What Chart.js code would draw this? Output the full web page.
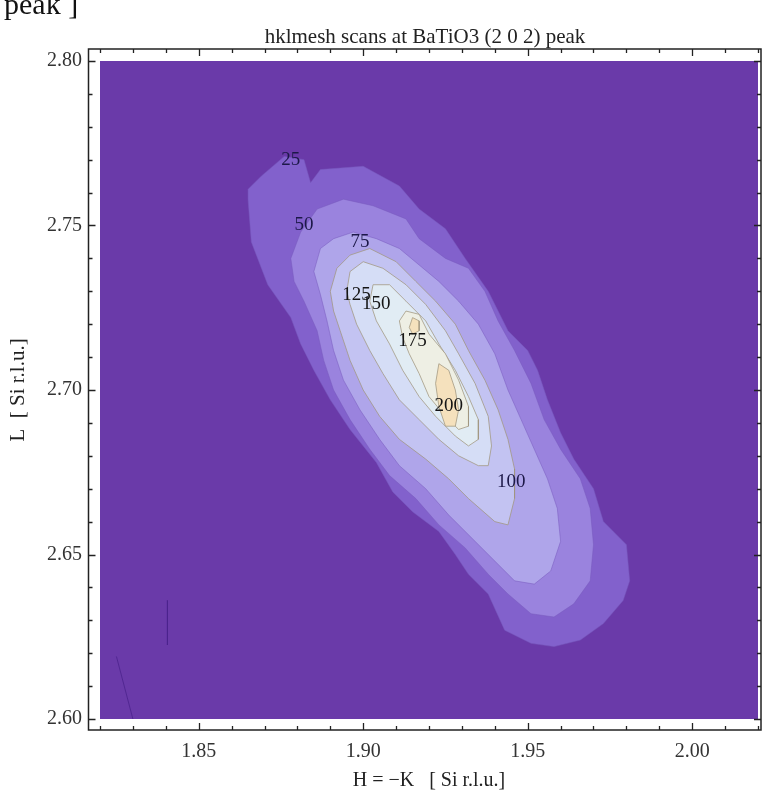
<!DOCTYPE html>
<html>
<head>
<meta charset="utf-8">
<script src="https://cdn.jsdelivr.net/npm/chart.js@4.4.1/dist/chart.umd.min.js"></script>
<style>
  html, body { margin: 0; padding: 0; background: #fff; }
</style>
</head>
<body>
<canvas id="meshChart" width="765" height="798"></canvas>
<script>
// axis ticks (H = -K on x, L on y)
const xTicks = [1.85, 1.90, 1.95, 2.00];
const yTicks = [2.60, 2.65, 2.70, 2.75, 2.80];
const xMinorTicks = [1.82, 1.83, 1.84, 1.85, 1.86, 1.87, 1.88, 1.89, 1.90, 1.91, 1.92,
  1.93, 1.94, 1.95, 1.96, 1.97, 1.98, 1.99, 2.00, 2.01, 2.02];
const yMinorTicks = [2.60, 2.61, 2.62, 2.63, 2.64, 2.65, 2.66, 2.67, 2.68, 2.69, 2.70,
  2.71, 2.72, 2.73, 2.74, 2.75, 2.76, 2.77, 2.78, 2.79, 2.80];

// contour outlines, [H, L]
const contour25 = [[1.865,2.761],[1.869,2.765],[1.876,2.771],[1.882,2.770],[1.884,2.763],[1.887,2.767],
  [1.900,2.768],[1.911,2.762],[1.917,2.755],[1.925,2.749],[1.931,2.740],[1.938,2.730],[1.944,2.718],
  [1.950,2.712],[1.953,2.706],[1.956,2.697],[1.960,2.687],[1.964,2.679],[1.970,2.670],[1.973,2.660],
  [1.980,2.653],[1.981,2.642],[1.979,2.636],[1.973,2.629],[1.966,2.624],[1.958,2.622],[1.951,2.623],
  [1.943,2.627],[1.938,2.638],[1.932,2.644],[1.928,2.650],[1.923,2.657],[1.915,2.663],[1.909,2.669],
  [1.904,2.678],[1.896,2.688],[1.890,2.697],[1.885,2.706],[1.881,2.714],[1.878,2.722],[1.871,2.732],
  [1.866,2.745],[1.865,2.758]];
const contour50 = [[1.878,2.740],[1.881,2.748],[1.886,2.755],[1.894,2.758],[1.903,2.756],[1.913,2.752],
  [1.917,2.746],[1.925,2.740],[1.932,2.737],[1.937,2.730],[1.941,2.721],[1.946,2.712],[1.951,2.702],
  [1.955,2.691],[1.960,2.682],[1.966,2.673],[1.969,2.664],[1.970,2.653],[1.969,2.642],[1.964,2.635],
  [1.958,2.631],[1.951,2.632],[1.944,2.638],[1.938,2.644],[1.931,2.652],[1.923,2.659],[1.916,2.667],
  [1.908,2.674],[1.902,2.682],[1.896,2.691],[1.891,2.700],[1.888,2.709],[1.886,2.718],[1.882,2.727],
  [1.879,2.733]];
const contour75 = [[1.885,2.736],[1.887,2.743],[1.891,2.746],[1.897,2.748],[1.904,2.746],[1.911,2.743],
  [1.917,2.738],[1.923,2.733],[1.929,2.727],[1.935,2.720],[1.940,2.711],[1.944,2.700],[1.948,2.691],
  [1.952,2.682],[1.956,2.673],[1.959,2.664],[1.960,2.654],[1.957,2.645],[1.952,2.641],[1.946,2.642],
  [1.940,2.648],[1.934,2.654],[1.926,2.662],[1.919,2.670],[1.911,2.677],[1.905,2.685],[1.899,2.694],
  [1.894,2.703],[1.891,2.712],[1.889,2.721],[1.887,2.729]];
const contour100 = [[1.890,2.730],[1.892,2.737],[1.896,2.741],[1.902,2.743],[1.910,2.739],[1.916,2.733],
  [1.922,2.727],[1.928,2.720],[1.932,2.712],[1.937,2.703],[1.941,2.694],[1.944,2.685],[1.946,2.676],
  [1.946,2.667],[1.944,2.659],[1.940,2.660],[1.932,2.667],[1.926,2.673],[1.919,2.679],[1.911,2.685],
  [1.905,2.692],[1.900,2.700],[1.896,2.709],[1.893,2.718],[1.891,2.724]];
const contour125 = [[1.895,2.730],[1.896,2.736],[1.900,2.739],[1.906,2.737],[1.913,2.732],[1.919,2.726],
  [1.925,2.718],[1.929,2.711],[1.934,2.702],[1.938,2.692],[1.939,2.683],[1.938,2.677],[1.935,2.677],
  [1.929,2.680],[1.923,2.685],[1.917,2.691],[1.911,2.697],[1.906,2.705],[1.902,2.712],[1.898,2.720],
  [1.896,2.726]];
const contour150 = [[1.902,2.727],[1.903,2.732],[1.908,2.732],[1.913,2.727],[1.919,2.721],[1.923,2.714],
  [1.928,2.706],[1.932,2.698],[1.935,2.691],[1.935,2.685],[1.932,2.683],[1.928,2.686],[1.922,2.692],
  [1.917,2.698],[1.912,2.706],[1.908,2.714],[1.904,2.721]];
const contour175 = [[1.911,2.721],[1.913,2.724],[1.917,2.723],[1.920,2.717],[1.925,2.711],[1.929,2.703],
  [1.932,2.695],[1.932,2.689],[1.929,2.688],[1.925,2.692],[1.920,2.698],[1.917,2.705],[1.914,2.711],
  [1.912,2.716]];
const contour200 = [[1.923,2.708],[1.926,2.706],[1.928,2.700],[1.929,2.694],[1.928,2.689],[1.925,2.689],
  [1.923,2.695],[1.922,2.702]];
const contour200b = [[1.915,2.722],[1.917,2.721],[1.917,2.718],[1.915,2.717],[1.914,2.719]];

// stray low-level contour pieces in the lower left
const strayLineA = [[1.825,2.619],[1.830,2.600]];
const strayLineB = [[1.8405,2.636],[1.8405,2.6225]];

// contour labels: level, H, L
const labelLevels = [25, 50, 75, 125, 150, 175, 200, 100];
const labelH = [1.878, 1.882, 1.899, 1.898, 1.904, 1.915, 1.926, 1.945];
const labelL = [2.770, 2.750, 2.745, 2.729, 2.726, 2.715, 2.695, 2.672];

const bgPurple = '#6a3aa9';
const bandColors = {
  25: '#8261cc', 50: '#9a83de', 75: '#afa5ea', 100: '#c3c3f2',
  125: '#d5ddf6', 150: '#e1ecf4', 175: '#eeefe4', 200: '#f5e1bd'
};

// highest level first -> drawn last (on top)
const contours = [
  { level: 200, pts: contour200 }, { level: 200, pts: contour200b },
  { level: 175, pts: contour175 }, { level: 150, pts: contour150 },
  { level: 125, pts: contour125 }, { level: 100, pts: contour100 },
  { level: 75, pts: contour75 }, { level: 50, pts: contour50 },
  { level: 25, pts: contour25 }
];

const serif = '"Liberation Serif", "Times New Roman", serif';

const datasets = [];
[strayLineA, strayLineB].forEach(pts => {
  datasets.push({
    data: pts.map(p => ({ x: p[0], y: p[1] })),
    borderColor: 'rgba(75,35,140,0.8)',
    borderWidth: 1,
    pointRadius: 0,
    fill: false
  });
});
contours.forEach(c => {
  const pts = c.pts.concat([c.pts[0]]);
  datasets.push({
    data: pts.map(p => ({ x: p[0], y: p[1] })),
    backgroundColor: bandColors[c.level],
    borderColor: c.level >= 100 ? 'rgba(160,150,125,0.75)' : 'rgba(120,90,190,0.5)',
    borderWidth: 1,
    pointRadius: 0,
    tension: 0,
    fill: 'shape'
  });
});

const plotBackground = {
  id: 'plotBackground',
  beforeDatasetsDraw(chart) {
    const { ctx, chartArea: a } = chart;
    ctx.save();
    ctx.fillStyle = bgPurple;
    ctx.fillRect(a.left, a.top, a.right - a.left, a.bottom - a.top);
    ctx.restore();
  }
};

const frameAndLabels = {
  id: 'frameAndLabels',
  afterDraw(chart) {
    const { ctx, chartArea: a, scales: { x, y } } = chart;
    const fl = a.left - 11.5, fr = a.right + 3, ft = a.top - 12, fb = a.bottom + 11;
    ctx.save();
    ctx.strokeStyle = '#222';
    ctx.lineWidth = 1.5;
    ctx.strokeRect(fl, ft, fr - fl, fb - ft);

    ctx.lineWidth = 1.3;
    ctx.beginPath();
    xMinorTicks.forEach(v => {
      const px = Math.round(x.getPixelForValue(v)) + 0.5;
      const len = xTicks.some(t => Math.abs(t - v) < 1e-6) ? 7 : 4;
      ctx.moveTo(px, fb); ctx.lineTo(px, fb - len);
      ctx.moveTo(px, ft); ctx.lineTo(px, ft + len);
    });
    yMinorTicks.forEach(v => {
      const py = Math.round(y.getPixelForValue(v)) + 0.5;
      const len = yTicks.some(t => Math.abs(t - v) < 1e-6) ? 7 : 4;
      ctx.moveTo(fl, py); ctx.lineTo(fl + len, py);
      ctx.moveTo(fr, py); ctx.lineTo(fr - len, py);
    });
    ctx.stroke();

    // contour labels
    ctx.font = '19px ' + serif;
    ctx.textAlign = 'center';
    ctx.textBaseline = 'middle';
    labelLevels.forEach((lv, i) => {
      ctx.fillStyle = lv >= 125 ? '#141414' : '#1c1848';
      ctx.fillText(String(lv), x.getPixelForValue(labelH[i]), y.getPixelForValue(labelL[i]));
    });

    // title and the cut-off caption above it
    ctx.fillStyle = '#222';
    ctx.font = '21px ' + serif;
    ctx.fillText('hklmesh scans at BaTiO3 (2 0 2) peak', 425, 37);
    ctx.font = '30px ' + serif;
    ctx.textAlign = 'left';
    ctx.textBaseline = 'alphabetic';
    ctx.fillStyle = '#111';
    ctx.fillText('peak ]', 4, 14);
    ctx.restore();
  }
};

new Chart(document.getElementById('meshChart'), {
  type: 'line',
  data: { datasets: datasets },
  options: {
    responsive: false,
    animation: false,
    layout: { padding: { top: 61, right: 7, bottom: 0, left: 0 } },
    plugins: {
      legend: { display: false },
      tooltip: { enabled: false },
      title: { display: false }
    },
    scales: {
      x: {
        type: 'linear',
        min: 1.82,
        max: 2.02,
        grid: { display: false },
        border: { display: false },
        afterBuildTicks: s => { s.ticks = xTicks.map(v => ({ value: v })); },
        afterFit: s => { s.height = 79; },
        ticks: {
          padding: 13,
          color: '#333',
          font: { family: serif, size: 20 },
          callback: v => Number(v).toFixed(2)
        },
        title: {
          display: true,
          text: 'H = \u2212K   [ Si r.l.u.]',
          color: '#222',
          font: { family: serif, size: 20 },
          padding: { bottom: 5 }
        }
      },
      y: {
        type: 'linear',
        min: 2.60,
        max: 2.80,
        grid: { display: false },
        border: { display: false },
        afterBuildTicks: s => { s.ticks = yTicks.map(v => ({ value: v })); },
        afterFit: s => { s.width = 100; },
        ticks: {
          padding: 10,
          color: '#333',
          font: { family: serif, size: 20 },
          callback: v => Number(v).toFixed(2)
        },
        title: {
          display: true,
          text: 'L  [ Si r.l.u.]',
          color: '#222',
          font: { family: serif, size: 21 },
          padding: { top: 6 }
        }
      }
    }
  },
  plugins: [plotBackground, frameAndLabels]
});
</script>
</body>
</html>
